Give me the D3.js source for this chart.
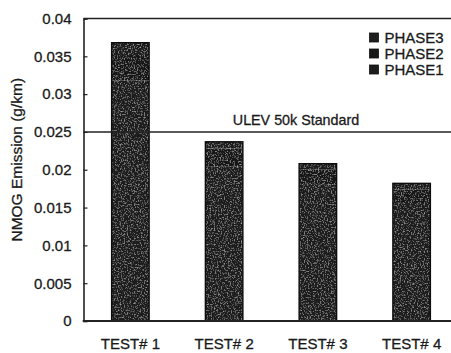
<!DOCTYPE html>
<html>
<head>
<meta charset="utf-8">
<script src="https://cdn.jsdelivr.net/npm/d3@7"></script>
<style>
  html, body { margin: 0; padding: 0; background: #fff; }
  svg { display: block; font-family: "Liberation Sans", Arial, Helvetica, sans-serif; }
  text { fill: #1a1a1a; stroke: #1a1a1a; stroke-width: 0.3px; }
</style>
</head>
<body>
<svg id="chart" width="451" height="353"></svg>
<script>
// NMOG emission per test, stacked by driving phase (g/km)
const tests = ["TEST# 1", "TEST# 2", "TEST# 3", "TEST# 4"];
const phases = ["PHASE1", "PHASE2", "PHASE3"];
const phase1 = [0.0318, 0.0204, 0.0180, 0.0156];
const phase2 = [0.0035, 0.0024, 0.0020, 0.0018];
const phase3 = [0.0015, 0.0009, 0.0008, 0.0008];
const yTicks = [0, 0.005, 0.01, 0.015, 0.02, 0.025, 0.03, 0.035, 0.04];
const yTickLabels = ["0", "0.005", "0.01", "0.015", "0.02", "0.025", "0.03", "0.035", "0.04"];
const standardValue = 0.025;
const standardLabel = "ULEV 50k Standard";
const yTitle = "NMOG Emission (g/km)";

const phaseFill = { PHASE1: "#1c1c1c", PHASE2: "#181818", PHASE3: "#1f1f1f" };

const svg = d3.select("#chart");
const plotLeft = 83.5, plotRight = 451, plotTop = 18.5, plotBottom = 321;

const rows = tests.map((t, i) => ({ test: t, PHASE1: phase1[i], PHASE2: phase2[i], PHASE3: phase3[i] }));
const series = d3.stack().keys(phases)(rows);

const x = d3.scaleBand().domain(tests).range([plotLeft, 458.5]).paddingInner(0.6).paddingOuter(0.3);
const y = d3.scaleLinear().domain([0, 0.04]).range([plotBottom, plotTop]);

// speckled texture for the bars
const defs = svg.append("defs");
const f = defs.append("filter").attr("id", "grain")
  .attr("x", 0).attr("y", 0).attr("width", 1).attr("height", 1);
f.append("feTurbulence").attr("type", "fractalNoise").attr("baseFrequency", 0.7)
  .attr("numOctaves", 2).attr("seed", 3).attr("result", "noise");
f.append("feColorMatrix").attr("in", "noise").attr("type", "matrix")
  .attr("values", "0 0 0 0 0.36  0 0 0 0 0.36  0 0 0 0 0.36  2.6 0 0 0 -1.35")
  .attr("result", "speck");
f.append("feComposite").attr("in", "speck").attr("in2", "SourceGraphic").attr("operator", "atop");

// bars
const g = svg.append("g");
series.forEach(s => {
  g.selectAll(null).data(s).join("rect")
    .attr("x", d => x(d.data.test))
    .attr("y", d => y(d[1]))
    .attr("width", x.bandwidth())
    .attr("height", d => y(d[0]) - y(d[1]))
    .attr("fill", phaseFill[s.key])
    .attr("filter", "url(#grain)");
});
// bar outlines
g.selectAll(null).data(rows).join("rect")
  .attr("x", d => x(d.test))
  .attr("y", d => y(d.PHASE1 + d.PHASE2 + d.PHASE3))
  .attr("width", x.bandwidth())
  .attr("height", d => y(0) - y(d.PHASE1 + d.PHASE2 + d.PHASE3))
  .attr("fill", "none").attr("stroke", "#0d0d0d").attr("stroke-width", 1.4);

// standard line
svg.append("line")
  .attr("x1", plotLeft).attr("x2", plotRight)
  .attr("y1", y(standardValue)).attr("y2", y(standardValue))
  .attr("stroke", "#222").attr("stroke-width", 1.5);
svg.append("text")
  .attr("x", 296).attr("y", y(standardValue) - 7)
  .attr("text-anchor", "middle").attr("font-size", 14.3)
  .text(standardLabel);

// frame: top line
svg.append("line").attr("x1", plotLeft).attr("x2", plotRight).attr("y1", plotTop).attr("y2", plotTop)
  .attr("stroke", "#222").attr("stroke-width", 1.6);

// y axis
const yAxis = d3.axisLeft(y).tickValues(yTicks)
  .tickFormat((d, i) => yTickLabels[i]).tickSize(-4).tickPadding(12);
const ya = svg.append("g").attr("transform", `translate(${plotLeft},0)`).call(yAxis);
ya.select(".domain").attr("stroke", "#222").attr("stroke-width", 1.6);
ya.selectAll(".tick line").attr("stroke", "#222").attr("stroke-width", 1.2);
ya.selectAll(".tick text").attr("font-size", 15).attr("fill", "#1a1a1a")
  .attr("font-family", "Liberation Sans, Arial, sans-serif");

// x axis
const xAxis = d3.axisBottom(x).tickSize(0).tickPadding(17);
const xa = svg.append("g").attr("transform", `translate(0,${plotBottom})`).call(xAxis);
xa.select(".domain").remove();
xa.selectAll(".tick text").attr("font-size", 15).attr("fill", "#1a1a1a")
  .attr("font-family", "Liberation Sans, Arial, sans-serif");
svg.append("line").attr("x1", plotLeft - 0.8).attr("x2", plotRight).attr("y1", plotBottom).attr("y2", plotBottom)
  .attr("stroke", "#222").attr("stroke-width", 1.8);

// y title
svg.append("text")
  .attr("transform", `translate(22,${(plotTop + plotBottom) / 2 - 10}) rotate(-90)`)
  .attr("text-anchor", "middle").attr("font-size", 15.5)
  .text(yTitle);

// legend (top entry is the top of the stack)
const legendKeys = phases.slice().reverse();
const lg = svg.append("g").attr("transform", "translate(369.5,33)");
legendKeys.forEach((k, i) => {
  const row = lg.append("g").attr("transform", `translate(0,${i * 16})`);
  row.append("rect").attr("x", 0).attr("y", 0).attr("width", 9).attr("height", 9)
    .attr("fill", phaseFill[k]).attr("stroke", "#111").attr("stroke-width", 0.8);
  row.append("text").attr("x", 15).attr("y", 9.5).attr("font-size", 15)
    .text(k);
});
</script>
</body>
</html>
